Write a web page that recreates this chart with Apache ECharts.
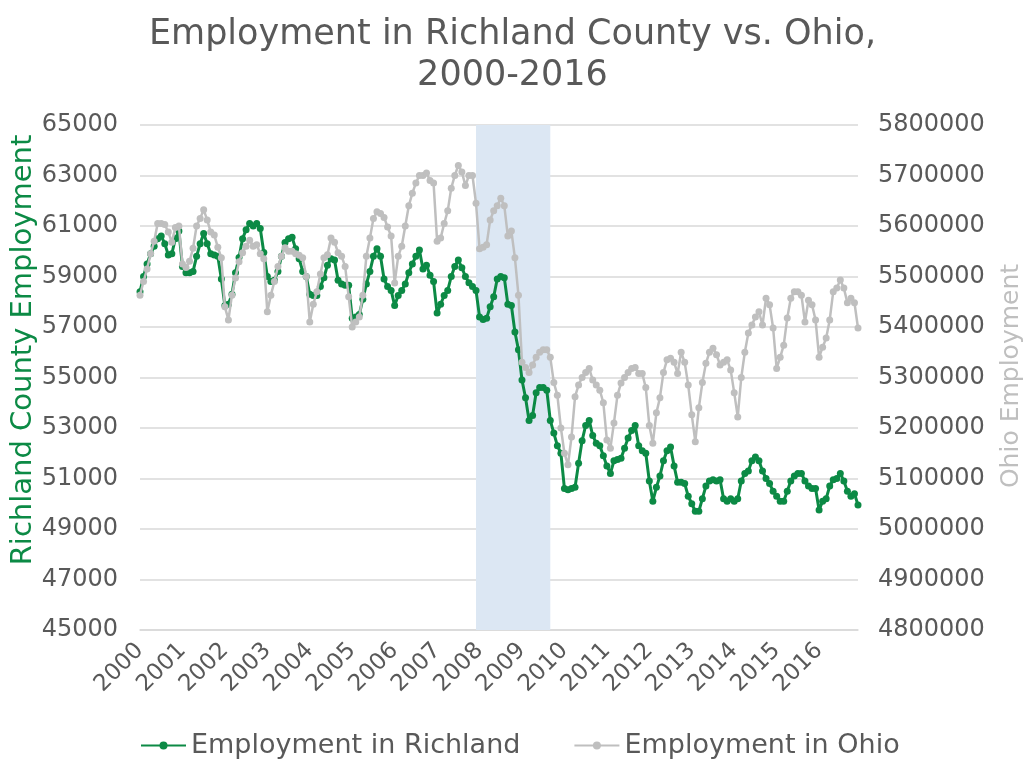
<!DOCTYPE html>
<html>
<head>
<meta charset="utf-8">
<script src="https://cdn.jsdelivr.net/npm/echarts@6/dist/echarts.min.js"></script>
<style>
html,body{margin:0;padding:0;background:#fff;}
#chart{width:1025px;height:759px;}
</style>
</head>
<body>
<div id="chart"></div>
<script>
// Tick labels (years) and months
var years = ['2000','2001','2002','2003','2004','2005','2006','2007','2008','2009','2010','2011','2012','2013','2014','2015','2016'];
var monthCodes = ['01','02','03','04','05','06','07','08','09','10','11','12'];

// Employment in Richland (monthly, 2000-2016)
var richland = [
  58400,59000,59500,59900,60200,60500,60600,60300,59850,59900,60500,60800,
  59400,59150,59150,59200,59800,60300,60700,60300,59900,59850,59800,58900,
  57850,57900,58300,59150,59750,60500,60850,61100,61000,61100,60900,59950,
  59000,58800,58850,59200,59800,60350,60500,60550,60100,59700,59200,59000,
  58300,58250,58250,58600,58950,59450,59700,59650,58850,58700,58650,58650,
  57350,57400,57500,58100,58700,59200,59800,60100,59800,58900,58600,58450,
  57850,58250,58450,58700,59150,59500,59800,60050,59300,59450,59050,58800,
  57550,57900,58250,58450,59000,59400,59650,59350,59000,58750,58600,58450,
  57400,57300,57350,57800,58200,58900,59000,58950,57900,57850,56800,56100,
  54900,54200,53300,53500,54400,54600,54600,54500,53300,52800,52300,52000,
  50600,50550,50600,50650,51600,52500,53100,53300,52700,52400,52300,51900,
  51500,51200,51700,51750,51800,52200,52600,52900,53100,52300,52100,52000,
  50900,50100,50650,51100,51700,52100,52250,51500,50850,50850,50800,50300,
  50000,49700,49700,50200,50700,50900,50950,50900,50950,50200,50100,50200,
  50100,50200,50900,51200,51300,51700,51850,51700,51300,51000,50800,50500,
  50300,50100,50100,50500,50900,51100,51200,51200,50900,50700,50600,50600,
  49750,50100,50200,50700,50950,51000,51200,50900,50500,50300,50400,49950
];

// Employment in Ohio (monthly, 2000-2016)
var ohio = [
  5463000,5490000,5515000,5545000,5570000,5605000,5605000,5603000,5588000,5568000,5597000,5600000,
  5525000,5518000,5530000,5556000,5600000,5615000,5632000,5612000,5588000,5582000,5558000,5537000,
  5440000,5414000,5463000,5497000,5529000,5547000,5560000,5572000,5560000,5563000,5545000,5535000,
  5430000,5463000,5490000,5520000,5540000,5557000,5550000,5550000,5545000,5542000,5537000,5500000,
  5410000,5445000,5470000,5505000,5537000,5543000,5576000,5568000,5547000,5540000,5520000,5460000,
  5400000,5410000,5420000,5463000,5540000,5576000,5615000,5628000,5625000,5617000,5598000,5580000,
  5487000,5540000,5560000,5600000,5640000,5665000,5685000,5700000,5700000,5705000,5690000,5685000,
  5570000,5576000,5605000,5630000,5675000,5700000,5720000,5707000,5680000,5700000,5700000,5645000,
  5555000,5558000,5563000,5612000,5630000,5640000,5655000,5640000,5580000,5590000,5537000,5463000,
  5330000,5320000,5310000,5325000,5340000,5350000,5355000,5355000,5340000,5290000,5265000,5200000,
  5150000,5127000,5182000,5262000,5285000,5300000,5310000,5318000,5295000,5285000,5275000,5250000,
  5176000,5160000,5210000,5265000,5289000,5300000,5310000,5318000,5320000,5308000,5308000,5280000,
  5205000,5170000,5230000,5260000,5310000,5335000,5338000,5330000,5308000,5350000,5330000,5285000,
  5226000,5173000,5240000,5290000,5328000,5350000,5358000,5345000,5325000,5330000,5335000,5315000,
  5270000,5222000,5300000,5350000,5388000,5404000,5420000,5430000,5404000,5457000,5444000,5398000,
  5318000,5340000,5364000,5418000,5457000,5470000,5470000,5463000,5410000,5453000,5444000,5414000,
  5340000,5360000,5378000,5414000,5470000,5477000,5493000,5477000,5448000,5457000,5448000,5398000
];

// Recession band
var recession = ['2007-12', '2009-09'];

// Axis titles
var leftAxisTitle = 'Richland County Employment';
var rightAxisTitle = 'Ohio Employment';

var categories = [];
years.forEach(function (y) { monthCodes.forEach(function (m) { categories.push(y + '-' + m); }); });

var FONT = 'DejaVu Sans';
var GREEN = '#0c8a45';
var GRAY = '#bfbfbf';
var TEXT = '#595959';

function plain(v) { return String(v); }

var chart = echarts.init(document.getElementById('chart'), null, {renderer: 'canvas'});
chart.setOption({
  animation: false,
  backgroundColor: '#ffffff',
  title: {
    text: 'Employment in Richland County vs. Ohio,\n2000-2016',
    left: 'center',
    top: 9,
    textStyle: {color: TEXT, fontFamily: FONT, fontSize: 35, fontWeight: 'normal', lineHeight: 41}
  },
  legend: {
    left: 140,
    bottom: 0,
    padding: 0,
    itemWidth: 45,
    itemHeight: 10,
    itemGap: 53,
    textStyle: {color: TEXT, fontFamily: FONT, fontSize: 27},
    data: ['Employment in Richland', 'Employment in Ohio']
  },
  graphic: [
    {
      type: 'text',
      x: 23, y: 350,
      rotation: Math.PI / 2,
      style: {text: leftAxisTitle, fill: GREEN, font: '29px "DejaVu Sans"', align: 'center', verticalAlign: 'middle'}
    },
    {
      type: 'text',
      x: 1011, y: 376,
      rotation: Math.PI / 2,
      style: {text: rightAxisTitle, fill: GRAY, font: '25px "DejaVu Sans"', align: 'center', verticalAlign: 'middle'}
    }
  ],
  grid: {left: 140, right: 167, top: 125, bottom: 129, containLabel: false, outerBoundsMode: 'none'},
  xAxis: {
    type: 'category',
    boundaryGap: false,
    data: categories,
    axisLine: {show: true, lineStyle: {color: '#d9d9d9', width: 1.5}},
    axisTick: {show: false},
    axisLabel: {
      interval: function (idx) { return idx % 12 === 0; },
      formatter: function (v) { return v.slice(0, 4); },
      rotate: 45,
      margin: 17,
      color: TEXT,
      fontFamily: FONT,
      fontSize: 23
    },
    splitLine: {show: false}
  },
  yAxis: [
    {
      type: 'value',
      min: 45000, max: 65000, interval: 2000,
      axisLine: {show: false},
      axisTick: {show: false},
      axisLabel: {color: TEXT, fontFamily: FONT, fontSize: 24, margin: 22, formatter: plain},
      splitLine: {lineStyle: {color: '#d9d9d9', width: 1.5}}
    },
    {
      type: 'value',
      min: 4800000, max: 5800000, interval: 100000,
      axisLine: {show: false},
      axisTick: {show: false},
      axisLabel: {color: TEXT, fontFamily: FONT, fontSize: 24, margin: 20, formatter: plain},
      splitLine: {show: false}
    }
  ],
  series: [
    {
      name: 'Employment in Richland',
      type: 'line',
      yAxisIndex: 0,
      data: richland,
      symbol: 'circle',
      symbolSize: 7,
      showAllSymbol: true,
      lineStyle: {color: GREEN, width: 3},
      itemStyle: {color: GREEN},
      markArea: {
        silent: true,
        itemStyle: {color: '#dce7f3'},
        data: [[{xAxis: recession[0]}, {xAxis: recession[1]}]]
      },
      z: 2
    },
    {
      name: 'Employment in Ohio',
      type: 'line',
      yAxisIndex: 1,
      data: ohio,
      symbol: 'circle',
      symbolSize: 7,
      showAllSymbol: true,
      lineStyle: {color: GRAY, width: 2.5},
      itemStyle: {color: GRAY},
      z: 3
    }
  ]
});
</script>
</body>
</html>
